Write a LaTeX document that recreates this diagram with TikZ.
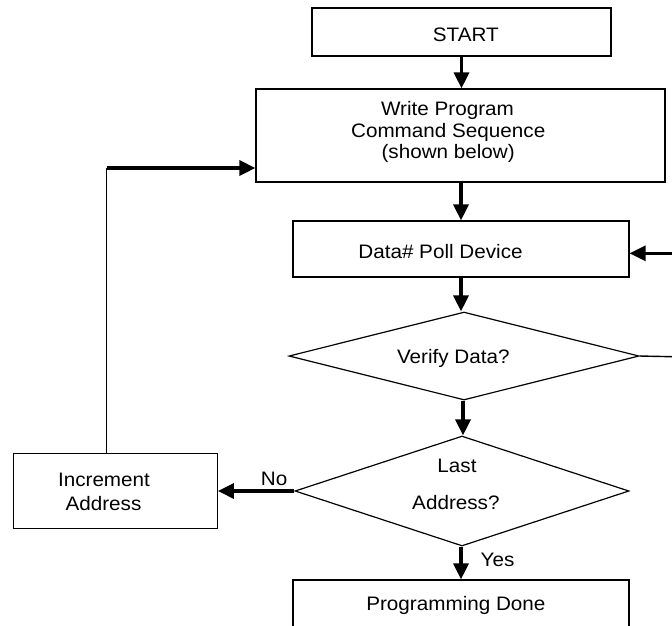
\documentclass[tikz,border=0pt]{standalone}
\usepackage{fontspec}
\setmainfont{Liberation Sans}[FakeStretch=1.06]
\usetikzlibrary{shapes.geometric,arrows.meta}
\begin{document}
\begin{tikzpicture}[x=1pt,y=-1pt,
  rectbox/.style={draw, line width=1.2pt, rectangle, inner sep=0pt},
  decision/.style={draw, line width=1.2pt, diamond, inner sep=0pt},
  txt/.style={anchor=base, inner sep=0pt, font=\fontsize{19.5}{21}\selectfont},
  flow/.style={line width=3.2pt, -{Triangle[length=16pt,width=15pt]}},
  plain/.style={line width=1.4pt}]
\clip (0,0) rectangle (672,625);
\fill[white] (0,0) rectangle (672,625);
% shapes
\node[rectbox, minimum width=299pt, minimum height=48pt] (start) at (461.5,32) {};
\node[rectbox, minimum width=409pt, minimum height=93pt] (write) at (460.5,135.5) {};
\node[rectbox, minimum width=336pt, minimum height=56pt] (data) at (461,249) {};
\node[decision, minimum width=350pt, minimum height=88pt] (verify) at (464,356) {};
\node[decision, minimum width=334pt, minimum height=110pt] (last) at (462,491) {};
\node[rectbox, minimum width=204pt, minimum height=75.5pt] (inc) at (115.3,491) {};
\node[rectbox, minimum width=336pt, minimum height=90pt] (done) at (461,625) {};
% texts
\node[txt] (tstart) at (465.8,41.7) {START};
\node[txt] (tw1) at (447.5,115.7) {Write Program};
\node[txt] (tw2) at (448.2,137.5) {Command Sequence};
\node[txt] (tw3) at (448.2,158.5) {(shown below)};
\node[txt] (tdata) at (440.5,258.3) {Data\# Poll Device};
\node[txt] (tverify) at (453.3,363.3) {Verify Data?};
\node[txt] (tlast1) at (457,472.7) {Last};
\node[txt] (tlast2) at (455.9,509.3) {Address?};
\node[txt] (tinc1) at (104,486) {Increment};
\node[txt] (tinc2) at (103.5,510) {Address};
\node[txt] (tno) at (274.2,485) {No};
\node[txt] (tyes) at (497.5,566.7) {Yes};
\node[txt] (tdone) at (455.9,610) {Programming Done};
% connectors
\draw[flow] (start.south) -- (start.south |- write.north);
\draw[flow] (write.south -| data.north) -- (data.north);
\draw[flow] (data.south) -- (data.south |- verify.north);
\draw[flow] (verify.south -| 463,0) -- (last.north -| 463,0);
\draw[flow] (last.south -| done.north) -- (done.north);
\draw[flow] (last.west) -- (last.west -| inc.east);
\coordinate (corner) at (106.7,168);
\draw[plain] (corner |- inc.north) -- (corner);
\draw[flow] (corner) -- (corner -| write.west);
\coordinate (redgeA) at (672,356.7);
\draw[plain] (verify.east) -- (redgeA);
\coordinate (redgeB) at (672,253.3);
\draw[flow] (redgeB) -- (redgeB -| data.east);
\end{tikzpicture}
\end{document}
